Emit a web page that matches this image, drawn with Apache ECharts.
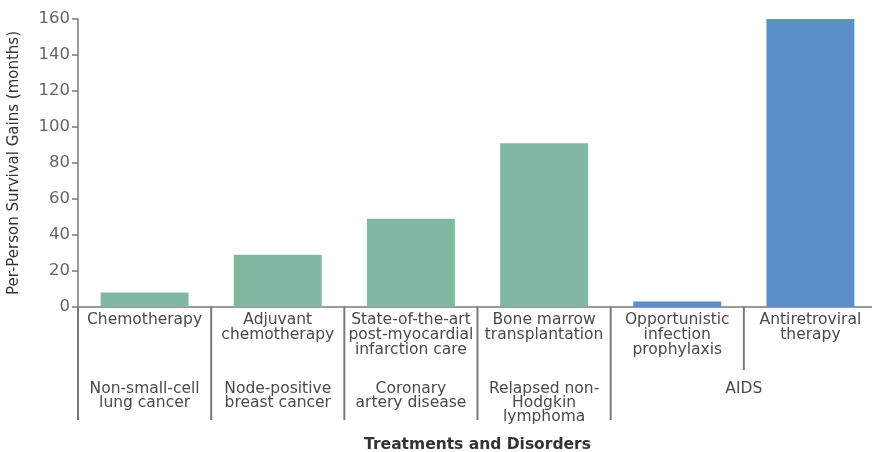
<!DOCTYPE html>
<html><head><meta charset="utf-8">
<script src="https://cdn.jsdelivr.net/npm/echarts@6/dist/echarts.min.js"></script>
<style>html,body{margin:0;padding:0;background:#fff}#c{width:872px;height:452px}</style>
</head><body><div id="c"></div>
<script>
const treatments = ['Chemotherapy', 'Adjuvant\nchemotherapy', 'State-of-the-art\npost-myocardial\ninfarction care', 'Bone marrow\ntransplantation', 'Opportunistic\ninfection\nprophylaxis', 'Antiretroviral\ntherapy'];
const disorders = ['Non-small-cell\nlung cancer', 'Node-positive\nbreast cancer', 'Coronary\nartery disease', 'Relapsed non-\nHodgkin\nlymphoma', 'AIDS', 'AIDS'];
const gains = [8, 29, 49, 91, 3, 160];
const yMin = 0, yMax = 160, yStep = 20;

const GREEN = '#82b8a2', BLUE = '#5b8fc7', LINE = '#7a7a7a', TXT = '#4a4a4a';
const FONT = 'DejaVu Sans';
const chart = echarts.init(document.getElementById('c'));
chart.setOption({
  animation: false,
  grid: {left: 78, right: -5, top: 19, bottom: 145, containLabel: false, outerBoundsMode: 'none'},
  xAxis: {
    type: 'category', data: treatments,
    name: 'Treatments and Disorders', nameLocation: 'middle', nameGap: 130,
    nameTextStyle: {fontFamily: FONT, fontSize: 15.5, fontWeight: 'bold', color: '#333'},
    axisLine: {lineStyle: {color: LINE, width: 1.5}},
    axisTick: {show: false},
    axisLabel: {margin: 5, fontFamily: FONT, fontSize: 15.5, lineHeight: 15, color: TXT, interval: 0}
  },
  yAxis: {
    type: 'value', min: yMin, max: yMax, interval: yStep,
    name: 'Per-Person Survival Gains (months)', nameLocation: 'middle', nameGap: 56,
    nameTextStyle: {fontFamily: FONT, fontSize: 15, color: '#333'},
    axisLine: {show: true, lineStyle: {color: LINE, width: 1.5}},
    axisTick: {show: true, length: 6, lineStyle: {color: LINE, width: 1.5}},
    splitLine: {show: false},
    axisLabel: {margin: 8, fontFamily: FONT, fontSize: 16.5, color: '#666'}
  },
  series: [{
    type: 'bar', barWidth: '66%',
    data: gains.map((v, i) => ({value: v, itemStyle: {color: disorders[i] === 'AIDS' ? BLUE : GREEN}}))
  }]
});

const px = i => chart.convertToPixel({xAxisIndex: 0}, i);
const band = px(1) - px(0);
const y0 = chart.convertToPixel({yAxisIndex: 0}, 0);
const graphics = [];
for (let i = 0; i < treatments.length; i++) {
  const x = px(i) - band / 2;
  const merged = i > 0 && disorders[i] === disorders[i - 1];
  graphics.push({type: 'line', silent: true, z: 10,
    shape: {x1: x, y1: y0 - 0.5, x2: x, y2: y0 + (merged ? 63 : 113)},
    style: {stroke: LINE, lineWidth: 2}});
}
let s = 0;
while (s < disorders.length) {
  let e = s;
  while (e + 1 < disorders.length && disorders[e + 1] === disorders[s]) e++;
  graphics.push({type: 'text', silent: true, z: 10,
    x: (px(s) + px(e)) / 2, y: y0 + 75,
    style: {text: disorders[s], align: 'center', verticalAlign: 'top',
      fontFamily: FONT, fontSize: 15.5, lineHeight: 14, fill: TXT}});
  s = e + 1;
}
chart.setOption({graphic: graphics});
</script></body></html>
